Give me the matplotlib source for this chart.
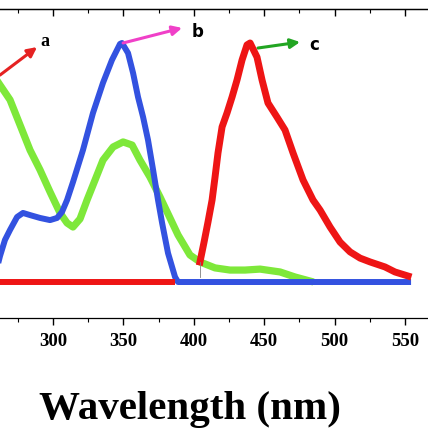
import numpy as np
import matplotlib
matplotlib.use("Agg")
import matplotlib.pyplot as plt

# Curve a (green)
wl_a = [256, 262.4, 269.5, 276.6, 283.7, 290.8, 297.9, 305.0, 310.0, 314.2, 319.2,
        324.2, 329.9, 335.5, 342.7, 349.8, 356.2, 361.8, 368.9, 376.0, 383.1, 388.8,
        397.3, 404.4, 415.1, 425.7, 436.4, 447.1, 461.3, 471.9, 482.6]
int_a = [0.88, 0.824, 0.762, 0.657, 0.552, 0.469, 0.377, 0.289, 0.247, 0.230, 0.264,
         0.343, 0.427, 0.510, 0.565, 0.586, 0.573, 0.510, 0.439, 0.356, 0.268, 0.197,
         0.113, 0.084, 0.059, 0.05, 0.05, 0.054, 0.042, 0.021, 0.004]

# Curve b (blue)
wl_b = [259, 262.4, 265.9, 269.5, 274.5, 278.7, 283.7, 290.8, 297.9, 302.9, 306.4,
        310.0, 314.2, 321.3, 328.4, 335.5, 341.9, 347.6, 349.0, 353.3, 356.9, 360.4,
        364.0, 367.5, 371.1, 374.6, 377.5, 381.7, 386.7, 388.8, 552.2]
int_b = [0.03, 0.109, 0.176, 0.218, 0.272, 0.289, 0.280, 0.268, 0.259, 0.268, 0.293,
         0.343, 0.418, 0.552, 0.707, 0.833, 0.929, 0.996, 1.0, 0.958, 0.874, 0.774,
         0.690, 0.594, 0.469, 0.343, 0.247, 0.121, 0.021, 0.0, 0.0]

# Curve c (red): flat part, then emission band
wl_c0 = [250, 386.7]
int_c0 = [0.0, 0.0]
wl_c = [404.4, 407.3, 410.1, 413.0, 415.1, 417.2, 420.1, 423.6, 427.2, 430.7, 434.3,
        437.8, 440.0, 444.9, 448.5, 452.7, 459.1, 464.8, 470.5, 477.6, 484.7, 489.7,
        496.8, 503.9, 511.0, 518.1, 525.2, 535.8, 542.9, 552.2]
int_c = [0.084, 0.167, 0.251, 0.343, 0.439, 0.540, 0.649, 0.707, 0.774, 0.845, 0.929,
         0.992, 1.0, 0.941, 0.845, 0.749, 0.690, 0.636, 0.540, 0.427, 0.343, 0.301,
         0.230, 0.167, 0.126, 0.100, 0.084, 0.063, 0.042, 0.025]

xticks = [300, 350, 400, 450, 500, 550]
xminor = [275, 325, 375, 425, 475, 525, 575]

fig = plt.figure(figsize=(4.28, 4.28), dpi=100)
ax = fig.add_axes([-0.0407, 0.257, 1.0856, 0.722])

ax.plot(wl_a, int_a, color="#7ee83a", lw=5.2, solid_joinstyle="round", zorder=2)
ax.plot(wl_b, int_b, color="#3352e0", lw=4.3, solid_joinstyle="round", zorder=3)
ax.plot(wl_c0, int_c0, color="#ee1515", lw=4.3, solid_capstyle="butt", zorder=3)
ax.plot(wl_c, int_c, color="#ee1515", lw=5.0, solid_joinstyle="round", zorder=4)
ax.plot([404.4, 404.4], [0.021, 0.084], color="gray", lw=0.6, zorder=5)

ax.set_xlim(250, 580)
ax.set_ylim(-0.1506, 1.1423)
ax.set_xticks(xticks)
ax.set_xticks(xminor, minor=True)
ax.set_yticks([])
ax.tick_params(axis="x", which="major", direction="out", length=5, width=1,
               pad=6, labelsize=13.5)
ax.tick_params(axis="x", which="minor", direction="out", length=3, width=0.8)
for lab in ax.get_xticklabels():
    lab.set_fontfamily("Liberation Serif")
    lab.set_fontweight("bold")

sec = ax.secondary_xaxis("top")
sec.set_xticks(xticks)
sec.set_xticks(xminor, minor=True)
sec.tick_params(which="major", direction="in", length=5, width=1, labeltop=False)
sec.tick_params(which="minor", direction="in", length=3, width=0.8)
sec.spines["top"].set_linewidth(0.9)
for s in ["top", "bottom", "left", "right"]:
    ax.spines[s].set_linewidth(0.9)

arrow = dict(arrowstyle="-|>", lw=2.2, mutation_scale=14, shrinkA=0, shrinkB=0)
ax.annotate("", xy=(288.7, 0.983), xytext=(262.4, 0.866),
            arrowprops=dict(arrow, color="#e52222"))
ax.text(291.0, 1.006, "a", family="Liberation Serif", weight="bold", fontsize=13,
        ha="left", va="center")
ax.annotate("", xy=(391.7, 1.063), xytext=(349.8, 1.0),
            arrowprops=dict(arrow, color="#f040c8"))
ax.text(398.5, 1.046, "b", family="DejaVu Sans", weight="bold", fontsize=12,
        ha="left", va="center")
ax.annotate("", xy=(475.5, 1.004), xytext=(445.6, 0.979),
            arrowprops=dict(arrow, color="#22a522"))
ax.text(482.0, 0.992, "c", family="DejaVu Sans", weight="bold", fontsize=12,
        ha="left", va="center")

fig.text(190 / 428, 0.044, "Wavelength (nm)", family="Liberation Serif",
         weight="bold", fontsize=29.5, ha="center", va="center")

fig.savefig("out.png", dpi=100)
